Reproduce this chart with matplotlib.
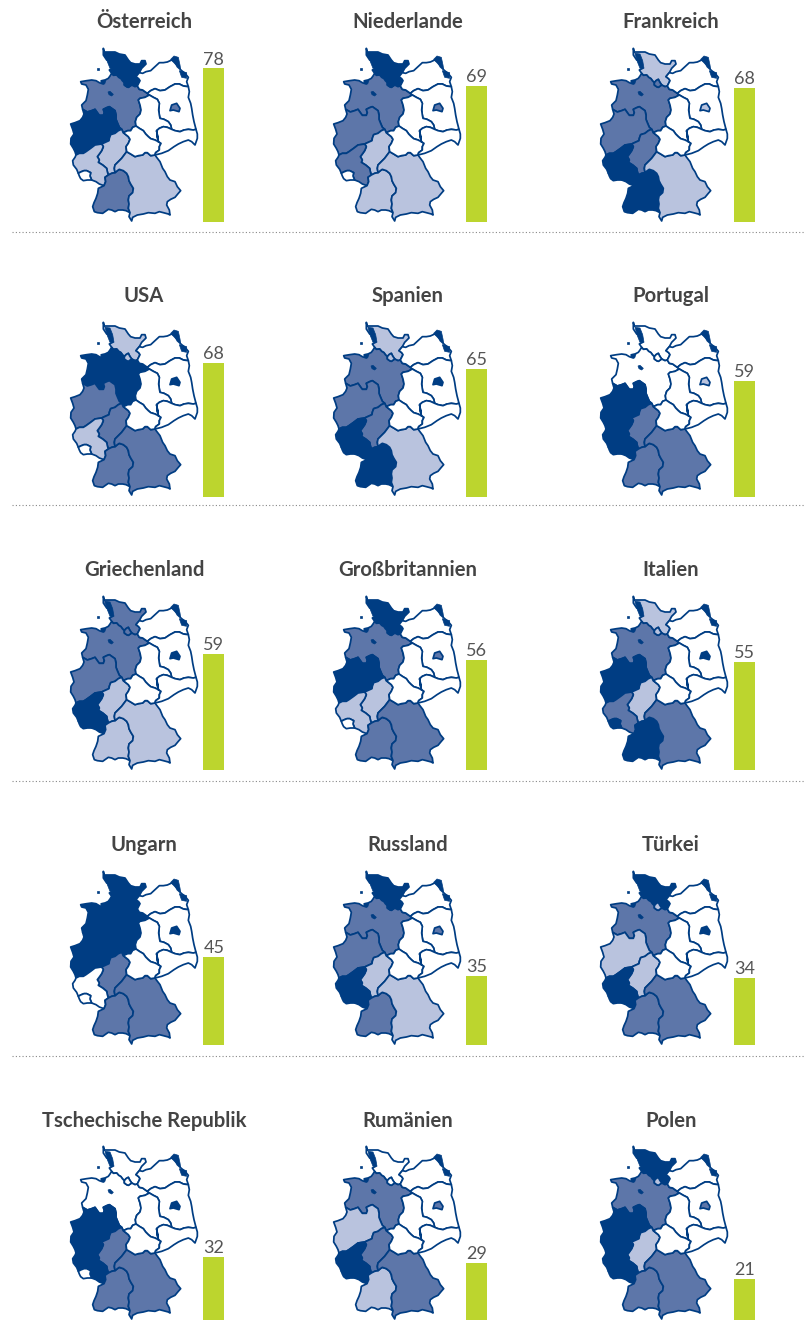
import matplotlib
matplotlib.use("Agg")
import matplotlib.pyplot as plt
from matplotlib.lines import Line2D

plt.rcParams['font.family'] = ['Lato', 'DejaVu Sans']

# countries, in reading order
countries = ["Österreich", "Niederlande", "Frankreich",
             "USA", "Spanien", "Portugal",
             "Griechenland", "Großbritannien", "Italien",
             "Ungarn", "Russland", "Türkei",
             "Tschechische Republik", "Rumänien", "Polen"]
values = [78, 69, 68, 68, 65, 59, 59, 56, 55, 45, 35, 34, 32, 29, 21]

# colour class of each state per country (0 = none ... 3 = darkest)
sh_class = [3, 3, 1, 1, 1, 0, 2, 3, 1, 3, 3, 3, 0, 0, 3]
hh_class = [3, 3, 2, 1, 1, 0, 2, 3, 1, 3, 3, 1, 0, 0, 1]
ni_class = [2, 2, 2, 3, 2, 0, 2, 2, 2, 3, 2, 2, 0, 2, 2]
nw_class = [3, 2, 2, 2, 2, 3, 2, 3, 3, 3, 2, 1, 3, 1, 3]
rp_class = [1, 2, 3, 1, 3, 3, 3, 1, 2, 0, 3, 3, 3, 3, 3]
sl_class = [0, 0, 3, 0, 3, 3, 3, 0, 3, 0, 3, 3, 0, 3, 3]
he_class = [1, 1, 2, 2, 2, 2, 1, 1, 1, 2, 1, 1, 2, 2, 1]
bw_class = [2, 1, 3, 2, 3, 2, 1, 2, 3, 2, 2, 2, 2, 1, 2]
by_class = [1, 1, 1, 2, 1, 2, 1, 2, 2, 2, 1, 2, 2, 2, 2]
be_class = [2, 2, 1, 3, 3, 1, 3, 2, 3, 3, 2, 3, 3, 2, 2]

# borders (x, y with y going down), shared between states
sh_coast = [(238, 98), (245, 85), (258, 72), (255, 62), (245, 62), (240, 72), (225, 72), (212, 68), (205, 60),
            (195, 45), (178, 42), (165, 36), (145, 36), (133, 36), (130, 25), (130, 45), (140, 60), (150, 65),
            (158, 85), (148, 90), (155, 100)]
sh_ni = [(155, 100), (160, 106), (170, 105), (176, 112), (183, 116), (187, 122), (193, 128)]
hh_sh = [(193, 128), (198, 122), (205, 118), (209, 126), (215, 135)]
hh_ni = [(193, 128), (193, 135), (200, 140), (205, 142), (215, 135)]
sh_ni2 = [(215, 135), (225, 140), (232, 138)]
sh_mv = [(238, 98), (232, 105), (228, 110), (236, 116), (240, 122), (236, 130), (232, 138)]
ni_mv = [(232, 138), (238, 148), (248, 150), (262, 160)]
ni_bb = [(262, 160), (268, 165)]
ni_st = [(268, 165), (255, 172), (240, 175), (235, 180), (240, 195), (243, 210), (240, 222), (230, 232),
         (226, 245), (228, 258)]
ni_th = [(228, 258), (218, 262), (212, 272), (203, 272), (190, 278)]
ni_he = [(190, 278), (185, 268)]
ni_nw = [(185, 268), (178, 262), (172, 248), (168, 238), (168, 225), (165, 212), (155, 205), (148, 200),
         (140, 203), (130, 208), (133, 218), (130, 226), (118, 226), (112, 218), (105, 208), (95, 212),
         (82, 216), (68, 208)]
ni_coast = [(155, 100), (150, 108), (145, 115), (135, 120), (125, 122), (130, 132), (118, 128), (108, 122),
            (95, 120), (80, 122), (62, 125), (65, 132), (78, 135), (85, 148), (82, 165), (78, 182), (65, 195),
            (68, 208)]
nw_west = [(48, 345), (45, 335), (40, 325), (32, 312), (33, 295), (42, 282), (38, 268), (32, 252), (45, 248),
           (60, 242), (68, 232), (72, 222), (68, 208)]
nw_he = [(185, 268), (175, 272), (165, 280), (152, 284), (148, 295), (147, 302), (138, 306), (125, 312)]
nw_rp = [(125, 312), (105, 315), (92, 325), (78, 335), (70, 340), (58, 340), (48, 345)]
he_rp = [(125, 312), (130, 320), (125, 332), (118, 342), (112, 350), (118, 360), (115, 367), (128, 375),
         (140, 385), (142, 395), (145, 405)]
he_bw = [(145, 405), (155, 400), (165, 398)]
he_by = [(165, 398), (163, 385), (165, 375), (175, 365), (185, 355), (200, 335)]
he_th = [(200, 335), (198, 320), (205, 310), (210, 298), (205, 290), (190, 278)]
rp_bw = [(145, 405), (135, 412), (137, 425), (132, 437)]
rp_south = [(132, 437), (118, 432), (108, 425), (95, 420)]
rp_sl = [(95, 420), (90, 408), (92, 398), (80, 392), (72, 392), (62, 396), (55, 400)]
rp_west = [(55, 400), (50, 388), (40, 375), (38, 362), (45, 352), (48, 345)]
sl_south = [(95, 420), (82, 420), (70, 422), (62, 416), (58, 408), (55, 400)]
bw_by = [(165, 398), (172, 392), (178, 388), (190, 392), (200, 400), (205, 410), (207, 422), (212, 432),
         (220, 445), (218, 458), (207, 468), (205, 480), (207, 492), (205, 505), (210, 518)]
bw_south = [(210, 518), (198, 512), (188, 510), (175, 510), (165, 515), (155, 510), (145, 508), (135, 515),
            (128, 520), (112, 518), (103, 515), (98, 500), (102, 488), (108, 475), (113, 460), (115, 445),
            (132, 437)]
by_outer = [(210, 518), (207, 530), (215, 543), (218, 532), (232, 525), (250, 522), (265, 518), (285, 520),
            (298, 515), (310, 518), (325, 522), (330, 525), (328, 510), (320, 495), (322, 485), (332, 478),
            (345, 472), (355, 460), (362, 452), (352, 440), (345, 425), (330, 420), (322, 410), (315, 395),
            (308, 385), (300, 365), (290, 352), (285, 345)]
by_th = [(285, 345), (272, 347), (262, 338), (255, 338), (248, 345), (235, 347), (225, 350), (212, 342),
         (200, 335)]
th_st = [(228, 258), (238, 265), (250, 272), (257, 282), (265, 290), (272, 296), (285, 300), (295, 305)]
th_sn = [(295, 305), (303, 310), (298, 320), (298, 330), (287, 338), (285, 345)]
st_sn = [(295, 305), (292, 290), (290, 272)]
st_bb = [(268, 165), (280, 172), (292, 178), (298, 190), (296, 210), (298, 225), (300, 235), (312, 238),
         (325, 245), (332, 255), (335, 268)]
st_sn2 = [(335, 268), (322, 262), (310, 260), (298, 265), (290, 272)]
bb_sn = [(335, 268), (345, 272), (360, 275), (372, 270), (385, 268), (400, 270), (408, 268)]
sn_outer = [(408, 268), (412, 282), (412, 295), (405, 315), (395, 305), (385, 300), (370, 305), (355, 312),
            (342, 320), (325, 332), (305, 340), (285, 345)]
bb_mv = [(262, 160), (272, 152), (285, 146), (300, 152), (315, 150), (330, 140), (345, 132), (358, 132),
         (370, 138), (385, 140)]
bb_east = [(385, 140), (388, 155), (385, 172), (392, 190), (395, 205), (398, 225), (402, 245), (408, 268)]
mv_coast = [(238, 98), (248, 100), (258, 95), (272, 92), (285, 80), (298, 68), (310, 68), (322, 66), (335, 60),
            (345, 65), (352, 80), (365, 92), (375, 100), (385, 112), (380, 125), (385, 140)]

be_shape = [(330, 212), (335, 195), (350, 190), (360, 205), (357, 215), (340, 210)]
# small dark bits: islands, Bremen and Bremerhaven
islands = [[(135, 40), (150, 42), (158, 62), (162, 85), (150, 85), (142, 65)],
           [(332, 58), (342, 48), (355, 52), (360, 75), (362, 88), (348, 75)],
           [(358, 92), (380, 98), (380, 115), (365, 112)],
           [(111, 84), (116, 84), (116, 89), (111, 89)],
           [(122, 122), (138, 120), (134, 132), (124, 130)],
           [(144, 156), (150, 154), (160, 163), (155, 168), (147, 164)]]

class_colors = ["#ffffff", "#b9c3de", "#5d76a9", "#003d83"]
line_color = "#003d83"
bar_color = "#bcd52e"
text_color = "#444444"
label_color = "#555555"

W, H = 809, 1323
col_map_x = [60, 323, 590]
col_bar_x = [203, 466, 734]
col_title_x = [144, 408, 671]
row_map_y = [40, 314, 588, 863, 1138]
row_bar_bottom = [221.7, 496.7, 770, 1045, 1320]
row_title_y = [22, 296, 570, 845, 1121]
sep_y = [231.5, 505.5, 780.5, 1055.5]
px_per_unit = 1.965


def ring(*parts):
    pts = []
    for part in parts:
        pts.extend(part)
    return pts


sh_shape = ring(sh_coast, sh_ni, hh_sh, sh_ni2, sh_mv[::-1])
hh_shape = ring(hh_sh, hh_ni[::-1])
ni_shape = ring(ni_coast, ni_nw[::-1], ni_he[::-1], ni_th[::-1], ni_st[::-1], ni_bb[::-1], ni_mv[::-1],
                sh_ni2[::-1], hh_ni[::-1], sh_ni[::-1])
nw_shape = ring(nw_west, ni_nw[::-1], nw_he, nw_rp)
he_shape = ring(nw_he, he_rp, he_bw, he_by, he_th, ni_he)
rp_shape = ring(nw_rp[::-1], he_rp, rp_bw, rp_south, rp_sl, rp_west)
sl_shape = ring(rp_sl, sl_south[::-1])
bw_shape = ring(he_bw, bw_by, bw_south, rp_bw[::-1])
by_shape = ring(he_by, by_th[::-1], by_outer[::-1], bw_by[::-1])
mv_shape = ring(mv_coast, bb_mv[::-1], ni_mv[::-1], sh_mv[::-1])
bb_shape = ring(bb_mv, bb_east, bb_sn[::-1], st_bb[::-1], ni_bb[::-1])
st_shape = ring(ni_st, th_st, st_sn, st_sn2[::-1], st_bb[::-1])
th_shape = ring(ni_th[::-1], th_st, th_sn, by_th, he_th)
sn_shape = ring(st_sn[::-1], st_sn2[::-1], bb_sn, sn_outer, th_sn[::-1])

fig = plt.figure(figsize=(W / 100, H / 100), dpi=100)


def px_axes(x, y_top, w, h):
    ax = fig.add_axes([x / W, 1 - (y_top + h) / H, w / W, h / H])
    ax.axis("off")
    return ax


for i, country in enumerate(countries):
    row, col = divmod(i, 3)

    # map
    ax = px_axes(col_map_x[col], row_map_y[row], 175, 190)
    ax.set_xlim(0, 525)
    ax.set_ylim(570, 0)
    states = [(sh_shape, sh_class[i]), (ni_shape, ni_class[i]),
              (hh_shape, hh_class[i]), (nw_shape, nw_class[i]), (he_shape, he_class[i]),
              (rp_shape, rp_class[i]), (sl_shape, sl_class[i]), (bw_shape, bw_class[i]),
              (by_shape, by_class[i]), (mv_shape, 0), (bb_shape, 0), (st_shape, 0),
              (th_shape, 0), (sn_shape, 0), (be_shape, be_class[i])]
    for shape, cls in states:
        xs, ys = zip(*shape)
        ax.fill(xs, ys, facecolor=class_colors[cls], edgecolor=line_color, linewidth=1.25,
                joinstyle="round", clip_on=False)
    for shape in islands:
        xs, ys = zip(*shape)
        ax.fill(xs, ys, facecolor=line_color, edgecolor=line_color, linewidth=0.5)

    # bar
    bax = px_axes(col_bar_x[col], row_bar_bottom[row] - 100 * px_per_unit, 21, 100 * px_per_unit)
    bax.set_xlim(-0.5, 0.5)
    bax.set_ylim(0, 100)
    bax.bar([0], [values[i]], width=1, color=bar_color)
    bax.text(0.02, values[i] + 0.4, str(values[i]), ha="center", va="bottom", fontsize=13,
             color=label_color, clip_on=False)

    fig.text(col_title_x[col] / W, 1 - row_title_y[row] / H, country, ha="center", va="center",
             fontsize=14.6, fontweight="bold", color=text_color)

for y in sep_y:
    fig.add_artist(Line2D([12 / W, 805 / W], [1 - y / H, 1 - y / H], color="#888888",
                          linewidth=0.8, linestyle=(0, (1, 2))))

fig.savefig("out.png", dpi=100)
